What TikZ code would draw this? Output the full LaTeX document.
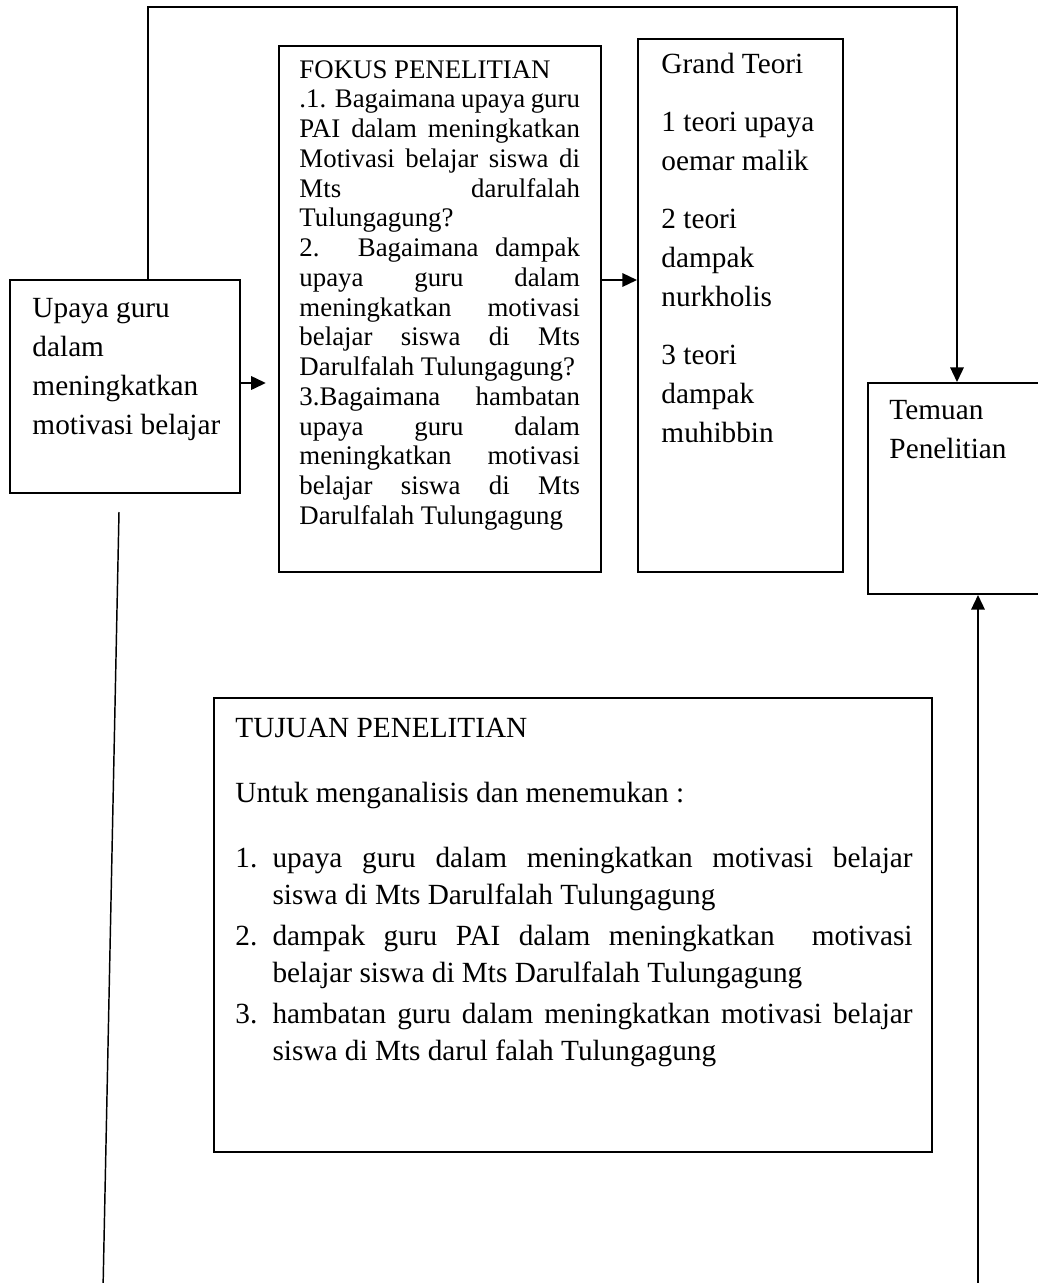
\documentclass[tikz,border=0pt]{standalone}
\usepackage{fontspec}
\setmainfont{Liberation Serif}
\usetikzlibrary{arrows.meta,fit}

\newcommand{\butir}[2]{\par\vspace{1.6pt}\hangindent=15.2pt\hangafter=1\noindent\makebox[15.2pt][l]{#1}#2}

\begin{document}
\begin{tikzpicture}[x=0.41pt, y=-0.41pt,
        kotak/.style={draw, black, line width=0.8pt, inner sep=0pt},
        isi/.style={anchor=base west, inner sep=0pt, align=flush left, text width=90pt, font=\fontsize{12}{16}\selectfont},
        panah/.style={-{Triangle[length=6pt, width=5.5pt]}, line width=0.8pt}]
            \useasboundingbox (0,0) rectangle (1038,1283);
            \clip (0,0) rectangle (1038,1283);

            \node[kotak, fit={(10,280) (240,493)}] (kiri) {};
            \node[kotak, fit={(279,46) (601,572)}] (fokus) {};
            \node[kotak, fit={(638,39) (843,572)}] (teori) {};
            \node[kotak, fit={(868,383) (1070,594)}] (temuan) {};
            \node[kotak, fit={(214,698) (932,1152)}] (tujuan) {};

            \node[isi] (kiriteks) at (32,317) {Upaya guru\\dalam\\meningkatkan\\motivasi belajar};
            \node[isi, text width=115pt, align=justify, font=\fontsize{11}{12.2}\selectfont] (fokusteks) at (299,78)
                {\tolerance=10000 \hyphenpenalty=10000 FOKUS PENELITIAN\\
                 .1. Bagaimana upaya guru \linebreak PAI dalam meningkatkan \linebreak Motivasi belajar siswa di \linebreak Mts darulfalah \linebreak Tulungagung?\\
                 2. Bagaimana dampak \linebreak upaya guru dalam \linebreak meningkatkan motivasi \linebreak belajar siswa di Mts \linebreak Darulfalah Tulungagung?\\
                 3.Bagaimana hambatan \linebreak upaya guru dalam \linebreak meningkatkan motivasi \linebreak belajar siswa di Mts \linebreak Darulfalah Tulungagung};
            \node[isi, text width=75pt] (teoriteks) at (661,73) {Grand Teori\\[7.8pt]1 teori upaya\\oemar malik\\[7.8pt]2 teori\\dampak\\nurkholis\\[7.8pt]3 teori\\dampak\\muhibbin};
            \node[isi, text width=60pt] (temuanteks) at (889,419) {Temuan\\Penelitian};
            \node[isi, text width=277.6pt, align=justify, font=\fontsize{12}{15.2}\selectfont] (tujuanteks) at (235,737)
                {\tolerance=10000 \hyphenpenalty=10000 TUJUAN PENELITIAN\par\vspace{11.45pt}
                 Untuk menganalisis dan menemukan :\par\vspace{9.85pt}
                 \butir{1.}{upaya guru dalam meningkatkan motivasi belajar \linebreak siswa di Mts Darulfalah Tulungagung}
                 \butir{2.}{dampak guru PAI dalam meningkatkan\ \ motivasi \linebreak belajar siswa di Mts Darulfalah Tulungagung}
                 \butir{3.}{hambatan guru dalam meningkatkan motivasi belajar \linebreak siswa di Mts darul falah Tulungagung}\par};

            \coordinate (sudut1) at (148,7);
            \coordinate (sudut2) at (957,7);
            \coordinate (tinggi1) at (0,383);
            \coordinate (tinggi2) at (0,280);
            \coordinate (bawah1a) at (119,512);
            \coordinate (bawah1b) at (103,1290);
            \coordinate (bawah2) at (978,1290);

            \draw[panah] (kiri.north -| sudut1) -- (sudut1) -- (sudut2) -- (temuan.north -| sudut2);
            \draw[panah, shorten >=5pt] (kiri.east |- tinggi1) -- (fokus.west |- tinggi1);
            \draw[panah] (fokus.east |- tinggi2) -- (teori.west |- tinggi2);
            \draw[panah] (bawah2) -- (temuan.south -| bawah2);
            \draw[line width=0.6pt] (bawah1a) -- (bawah1b);
        \end{tikzpicture}
\end{document}
